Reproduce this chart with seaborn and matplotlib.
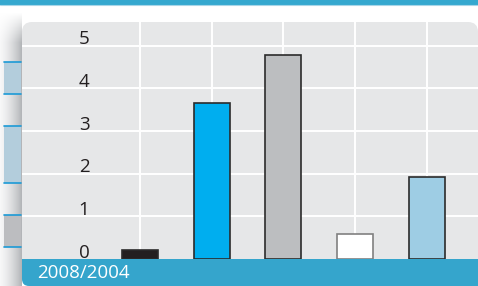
import matplotlib
matplotlib.use("Agg")
import numpy as np
import pandas as pd
import seaborn as sns
import matplotlib.pyplot as plt
from matplotlib.patches import FancyBboxPatch, Rectangle

# 数据
categories = ["c1", "c2", "c3", "c4", "c5"]
values = [0.2, 3.65, 4.78, 0.58, 1.92]
bar_colors = ["#231f20", "#00aeef", "#bcbec0", "#ffffff", "#9ecde4"]
edge_colors = ["#2b2b2b", "#2b2b2b", "#2b2b2b", "#808080", "#2b2b2b"]
y_ticks = [0, 1, 2, 3, 4, 5]
footer = "2008/2004"

# 风格、字体
sns.set_style("white")
plt.rcParams['font.family'] = ['Open Sans', 'DejaVu Sans']

W, H = 478, 286
fig = plt.figure(figsize=(W / 100, H / 100), dpi=100)
fig.patch.set_facecolor("white")

# 背景层(像素坐标)
bg = fig.add_axes([0, 0, 1, 1])
bg.set_xlim(0, W)
bg.set_ylim(H, 0)
bg.axis("off")

# 左侧阴影
gx = np.linspace(0, 1, 40)
gy = np.clip((np.linspace(12, H, 200) - 12) / 30, 0, 1)
shade = np.zeros((200, 40, 4))
col = np.array([0.93, 0.93, 0.94]) * (1 - gx[:, None]) + np.array([0.70, 0.71, 0.72]) * gx[:, None]
shade[:, :, :3] = col[None, :, :]
shade[:, :, 3] = gy[:, None] * (0.4 + 0.6 * gx[None, :])
bg.imshow(shade, extent=(0, 22, H, 12), aspect="auto", zorder=1)

# 左侧标签块
for y0, y1, fc in [(62, 94, "#b3cddc"), (126, 183, "#b3cddc"), (215, 247, "#bcbdc0")]:
    bg.add_patch(Rectangle((4, y0), 17, y1 - y0, facecolor=fc, edgecolor="none", zorder=2))
    bg.plot([4, 21], [y0, y0], color="#1c9ad6", lw=1.2, zorder=3)
    bg.plot([4, 21], [y1, y1], color="#1c9ad6", lw=1.2, zorder=3)

# 顶部蓝条
bg.add_patch(Rectangle((0, 0), W, 5, facecolor="#35a8cf", edgecolor="none", zorder=2))
bg.plot([0, W], [5.3, 5.3], color="#a8d6e8", lw=0.8, zorder=2)

# 灰色面板
bg.add_patch(FancyBboxPatch((22, 22), W - 22, 250, boxstyle="round,pad=0,rounding_size=10",
                            facecolor="#e6e7e8", edgecolor="none", zorder=2))
# 底部蓝条
bg.add_patch(FancyBboxPatch((22, 259), W + 20, 27, boxstyle="round,pad=0,rounding_size=7",
                            facecolor="#35a5cc", edgecolor="none", zorder=3))
bg.add_patch(Rectangle((22, 259), W, 12, facecolor="#35a5cc", edgecolor="none", zorder=3))
bg.text(37, 273.5, footer, color="white", fontsize=13.5, va="center", ha="left", zorder=4)

# 主图
ax = fig.add_axes([22 / W, (H - 259) / H, (W - 22) / W, 237 / H])
ax.set_facecolor("none")
data = pd.DataFrame({"cat": categories, "value": values})
sns.barplot(data=data, x="cat", y="value", hue="cat", palette=bar_colors, width=0.5,
            saturation=1, legend=False, ax=ax, linewidth=1.2, edgecolor="#2b2b2b", zorder=3)
for p, ec in zip(ax.patches, edge_colors):
    p.set_edgecolor(ec)

for v in y_ticks[1:]:
    ax.axhline(v, color="white", lw=1.4, zorder=1)
for i in range(len(categories)):
    ax.axvline(i, color="white", lw=1.4, zorder=1)

ax.set_xlim(-1.646, 4.714)
ax.set_ylim(0, 5.56)
for v in y_ticks:
    ax.text(-0.78, v + 0.035, str(v), ha="center", va="baseline", fontsize=13.5,
            color="#231f20", zorder=4)

ax.set_xticks([])
ax.set_yticks([])
ax.set_xlabel("")
ax.set_ylabel("")
for s in ax.spines.values():
    s.set_visible(False)

fig.savefig("out.png", dpi=100)
